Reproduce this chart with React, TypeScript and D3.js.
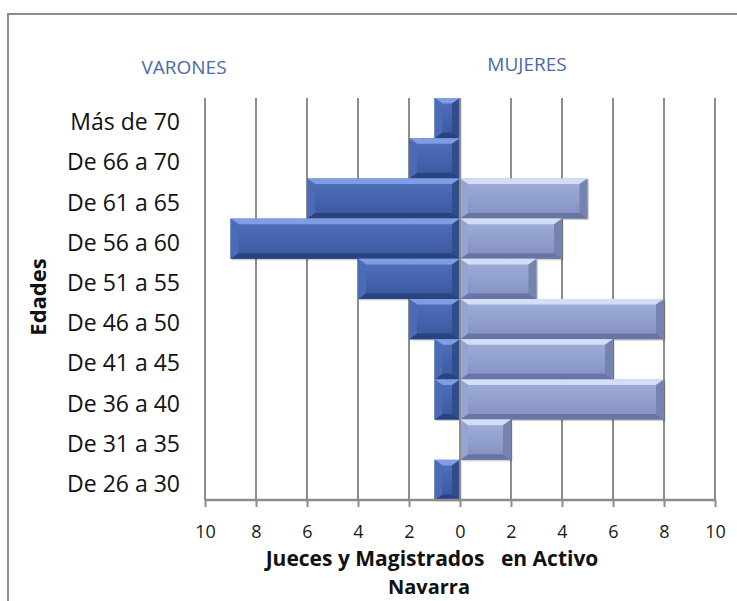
import React, { useEffect, useRef } from "react";
import { axisBottom, scaleBand, scaleLinear, select, range } from "d3";

const width = 737;
const height = 601;
const plot = { left: 205, right: 715, top: 98, bottom: 500 };

const ageGroups = [
  "Más de 70",
  "De 66 a 70",
  "De 61 a 65",
  "De 56 a 60",
  "De 51 a 55",
  "De 46 a 50",
  "De 41 a 45",
  "De 36 a 40",
  "De 31 a 35",
  "De 26 a 30"
];
const varones = [1, 2, 6, 9, 4, 2, 1, 1, 0, 1];
const mujeres = [0, 0, 5, 4, 3, 8, 6, 8, 2, 0];
const tickValues = [-10, -8, -6, -4, -2, 0, 2, 4, 6, 8, 10];

const font = "'Open Sans', Lato, sans-serif";

const palettes = {
  men: { top: "#7f9de3", face1: "#5071bd", face2: "#3a579e", bottom: "#2a4280", left: "#4c6bb6", right: "#324d8c" },
  women: { top: "#d3ddf8", face1: "#a1afda", face2: "#8390c0", bottom: "#6874a1", left: "#96a4d2", right: "#7683b0" }
};

function Bevel({ x0, y0, w, h, kind }) {
  const p = palettes[kind];
  const b = Math.min(8, w / 2, h / 2);
  const pts = a => a.map(d => d.join(",")).join(" ");
  return (
    <g>
      <rect x={x0 + 1.5} y={y0 + 1.5} width={w} height={h} fill="#000" opacity={0.18} />
      <rect x={x0} y={y0} width={w} height={h} fill={`url(#face-${kind})`} />
      <polygon points={pts([[x0, y0], [x0 + w, y0], [x0 + w - b, y0 + b * 0.7], [x0 + b, y0 + b * 0.7]])} fill={p.top} />
      <polygon points={pts([[x0, y0 + h], [x0 + w, y0 + h], [x0 + w - b, y0 + h - b * 0.7], [x0 + b, y0 + h - b * 0.7]])} fill={p.bottom} />
      <polygon points={pts([[x0, y0], [x0 + b, y0 + b * 0.7], [x0 + b, y0 + h - b * 0.7], [x0, y0 + h]])} fill={p.left} />
      <polygon points={pts([[x0 + w, y0], [x0 + w - b, y0 + b * 0.7], [x0 + w - b, y0 + h - b * 0.7], [x0 + w, y0 + h]])} fill={p.right} />
    </g>
  );
}

export default function App() {
  const xAxisRef = useRef(null);

  const x = scaleLinear().domain([-10, 10]).range([plot.left, plot.right]);
  const y = scaleBand().domain(ageGroups).range([plot.top, plot.bottom]).padding(0);

  useEffect(() => {
    const axis = axisBottom(x)
      .tickValues(tickValues)
      .tickFormat(d => String(Math.abs(d)))
      .tickSize(7)
      .tickPadding(18);
    const g = select(xAxisRef.current).call(axis);
    g.select(".domain").attr("stroke", "#8c8c8c").attr("stroke-width", 2.5).attr("d", `M${plot.left},0H${plot.right}`);
    g.selectAll(".tick line").attr("stroke", "#8c8c8c").attr("stroke-width", 2);
    g.selectAll(".tick text")
      .attr("font-family", font)
      .attr("font-size", 18)
      .attr("fill", "#1a1a1a");
  }, []);

  const menBars = ageGroups
    .map((a, i) => ({ a, v: varones[i] }))
    .filter(d => d.v > 0)
    .map(d => ({ x0: x(-d.v), y0: y(d.a), w: x(0) - x(-d.v), h: y.bandwidth() }));
  const womenBars = ageGroups
    .map((a, i) => ({ a, v: mujeres[i] }))
    .filter(d => d.v > 0)
    .map(d => ({ x0: x(0), y0: y(d.a), w: x(d.v) - x(0), h: y.bandwidth() }));

  return (
    <svg width={width} height={height} style={{ position: "absolute", left: 0, top: 0 }}>
      <defs>
        {Object.keys(palettes).map(k => (
          <linearGradient key={k} id={`face-${k}`} x1="0" y1="0" x2="0" y2="1">
            <stop offset="0" stopColor={palettes[k].face1} />
            <stop offset="1" stopColor={palettes[k].face2} />
          </linearGradient>
        ))}
      </defs>
      <rect x={0} y={0} width={width} height={height} fill="#fff" />
      <rect x={8} y={14} width={740} height={600} fill="none" stroke="#8c8c8c" strokeWidth={2} />

      <text x={184} y={74} textAnchor="middle" fontFamily={font} fontSize={19} fill="#4a6aa8">VARONES</text>
      <text x={527} y={71} textAnchor="middle" fontFamily={font} fontSize={19} fill="#4a6aa8">MUJERES</text>

      {range(-10, 11, 2).filter(v => v !== 0).map(v => (
        <line key={v} x1={x(v)} x2={x(v)} y1={plot.top} y2={plot.bottom} stroke="#8c8c8c" strokeWidth={2} />
      ))}

      {menBars.map((b, i) => <Bevel key={"m" + i} {...b} kind="men" />)}
      {womenBars.map((b, i) => <Bevel key={"w" + i} {...b} kind="women" />)}

      <line x1={x(0)} x2={x(0)} y1={plot.top} y2={plot.bottom} stroke="#8c8c8c" strokeWidth={2} />

      {ageGroups.map(a => (
        <text key={a} x={180} y={y(a) + y.bandwidth() / 2 + 12} textAnchor="end" fontFamily={font} fontSize={23} fill="#111">{a}</text>
      ))}

      <g ref={xAxisRef} transform={`translate(0,${plot.bottom})`} />

      <text x={432} y={566} textAnchor="middle" fontFamily={font} fontSize={21} fontWeight="bold" fill="#111" style={{ whiteSpace: "pre" }}>Jueces y Magistrados   en Activo</text>
      <text x={429} y={594} textAnchor="middle" fontFamily={font} fontSize={20} fontWeight="bold" fill="#111">Navarra</text>

      <text transform="translate(46,297) rotate(-90)" textAnchor="middle" fontFamily={font} fontSize={22} fontWeight="bold" fill="#111">Edades</text>
    </svg>
  );
}
